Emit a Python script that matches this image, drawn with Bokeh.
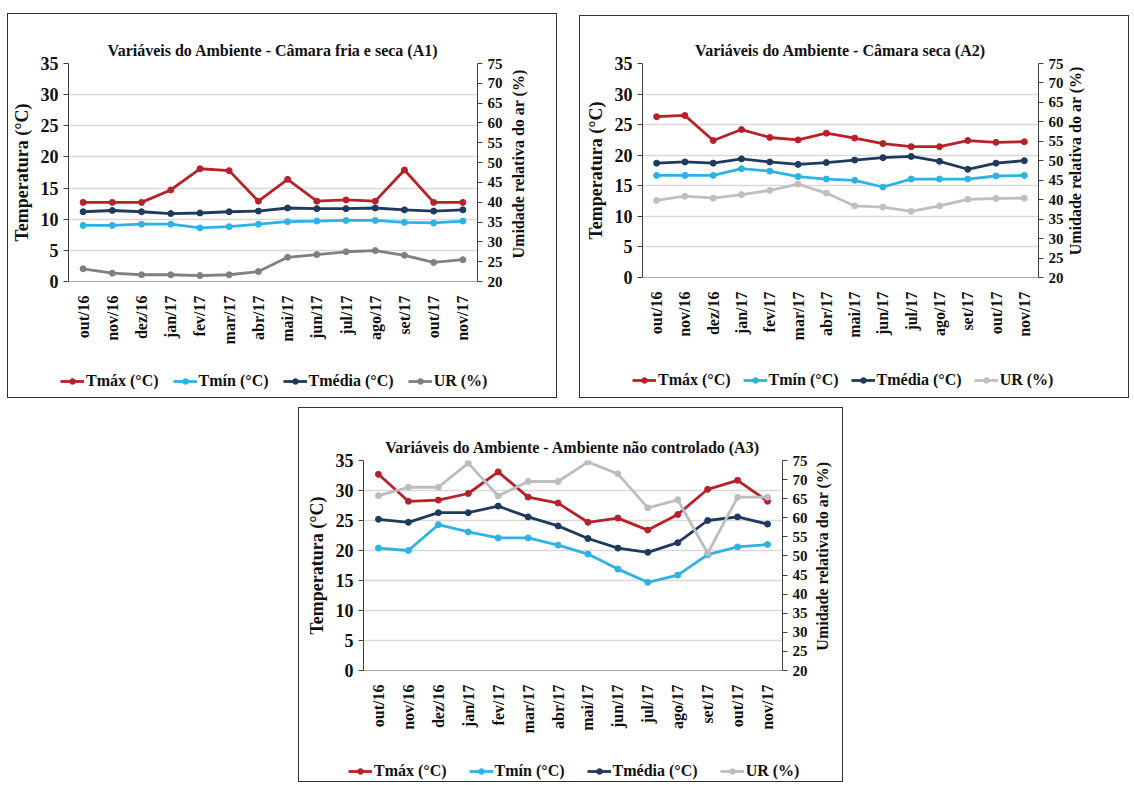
import math
from bokeh.plotting import figure
from bokeh.models import (Range1d, LinearAxis, Legend, LegendItem, FactorRange,
                          FixedTicker, Spacer, Label)
from bokeh.layouts import row, column
from bokeh.embed import file_html
from bokeh.resources import INLINE

months = ["out/16", "nov/16", "dez/16", "jan/17", "fev/17", "mar/17", "abr/17",
          "mai/17", "jun/17", "jul/17", "ago/17", "set/17", "out/17", "nov/17"]

# A1 - Câmara fria e seca
a1_tmax = [12.7, 12.7, 12.7, 14.7, 18.1, 17.8, 12.9, 16.4, 12.9, 13.1, 12.9, 17.9, 12.7, 12.7]
a1_tmin = [9.0, 9.0, 9.2, 9.2, 8.6, 8.8, 9.2, 9.6, 9.7, 9.8, 9.8, 9.5, 9.4, 9.7]
a1_tmed = [11.2, 11.4, 11.2, 10.9, 11.0, 11.2, 11.3, 11.8, 11.7, 11.7, 11.8, 11.5, 11.3, 11.5]
a1_ur = [23.2, 22.1, 21.7, 21.7, 21.5, 21.7, 22.5, 26.1, 26.8, 27.5, 27.8, 26.6, 24.8, 25.5]

# A2 - Câmara seca
a2_tmax = [26.3, 26.5, 22.4, 24.2, 22.9, 22.5, 23.6, 22.8, 21.9, 21.4, 21.4, 22.4, 22.1, 22.2]
a2_tmin = [16.7, 16.7, 16.7, 17.8, 17.4, 16.5, 16.1, 15.9, 14.8, 16.1, 16.1, 16.1, 16.6, 16.7]
a2_tmed = [18.7, 18.9, 18.7, 19.4, 18.9, 18.5, 18.8, 19.2, 19.6, 19.8, 19.0, 17.7, 18.7, 19.1]
a2_ur = [39.8, 40.9, 40.4, 41.3, 42.4, 44.0, 41.7, 38.4, 38.1, 37.0, 38.4, 40.1, 40.3, 40.4]

# A3 - Ambiente não controlado
a3_tmax = [32.7, 28.2, 28.4, 29.5, 33.1, 28.9, 27.9, 24.7, 25.4, 23.4, 26.0, 30.2, 31.7, 28.2]
a3_tmin = [20.4, 20.0, 24.3, 23.1, 22.1, 22.1, 20.9, 19.4, 16.9, 14.7, 15.9, 19.3, 20.6, 21.0]
a3_tmed = [25.2, 24.7, 26.3, 26.3, 27.4, 25.6, 24.1, 22.0, 20.4, 19.7, 21.3, 25.0, 25.6, 24.4]
a3_ur = [65.8, 68.0, 68.0, 74.3, 65.7, 69.5, 69.5, 74.6, 71.5, 62.6, 64.7, 50.7, 65.4, 65.4]

left_ticks = [0, 5, 10, 15, 20, 25, 30, 35]
right_ticks = [20, 25, 30, 35, 40, 45, 50, 55, 60, 65, 70, 75]

labels = ["Tmáx (°C)", "Tmín (°C)", "Tmédia (°C)", "UR (%)"]
right_label = "Umidade relativa do ar (%)"
C_MAX = "#B8202A"
C_MIN = "#2DB3E3"
C_MED = "#1F3A5F"
FONT = "Liberation Serif"
TXT = "#111111"


def blank_fig(w, h, x_range, y_range):
    f = figure(width=w, height=h, x_range=x_range, y_range=y_range,
               x_axis_type=None, y_axis_type=None, output_backend="svg",
               toolbar_location=None, min_border=0)
    f.outline_line_color = None
    f.background_fill_color = None
    f.border_fill_color = None
    return f


def make_panel(title, tmax, tmin, tmed, ur, ur_color, box_w, box_h, fw, fh,
               bl, bt, title_offset, lab_x, leg_h, leg_xy, leg_spacing):
    mr = 28
    main_h = box_h - leg_h
    main_w = bl + fw + mr
    p = figure(x_range=FactorRange(*months), y_range=Range1d(0, 35),
               frame_width=fw, frame_height=fh, output_backend="svg",
               toolbar_location=None, min_border_left=bl, min_border_right=mr,
               min_border_top=bt, min_border_bottom=main_h - bt - fh)
    p.extra_y_ranges = {"ur": Range1d(20, 75)}
    p.outline_line_color = None
    p.background_fill_color = "white"
    p.border_fill_color = None

    p.title.text = title
    p.title.align = "center"
    p.title.text_font = FONT
    p.title.text_font_style = "bold"
    p.title.text_font_size = "16px"
    p.title.text_color = TXT
    p.title.offset = title_offset
    if "padding" in p.title.properties():
        p.title.padding = (0, 0, 9, 0)

    p.xgrid.grid_line_color = None
    p.ygrid.grid_line_color = "#D9D9D9"
    p.ygrid.grid_line_width = 1.5
    p.ygrid.ticker = FixedTicker(ticks=left_ticks)

    ya = p.yaxis[0]
    ya.ticker = FixedTicker(ticks=left_ticks)
    ya.axis_label = "Temperatura (°C)"
    ya.axis_label_text_font = FONT
    ya.axis_label_text_font_style = "bold"
    ya.axis_label_text_font_size = "18px"
    ya.axis_label_text_color = TXT
    ya.axis_label_standoff = 6
    ya.major_label_text_font = FONT
    ya.major_label_text_font_style = "bold"
    ya.major_label_text_font_size = "18px"
    ya.major_label_text_color = TXT
    ya.axis_line_color = "#404040"
    ya.major_tick_line_color = "#404040"
    ya.major_tick_out = 5
    ya.major_tick_in = 0
    ya.minor_tick_line_color = None

    ra = LinearAxis(y_range_name="ur", ticker=FixedTicker(ticks=right_ticks))
    ra.major_label_text_font = FONT
    ra.major_label_text_font_style = "bold"
    ra.major_label_text_font_size = "15px"
    ra.major_label_text_color = TXT
    ra.axis_line_color = "#404040"
    ra.major_tick_line_color = "#404040"
    ra.major_tick_out = 5
    ra.major_tick_in = 0
    ra.minor_tick_line_color = None
    p.add_layout(ra, "right")

    xa = p.xaxis[0]
    xa.major_label_orientation = math.pi / 2
    xa.major_label_text_font = FONT
    xa.major_label_text_font_style = "bold"
    xa.major_label_text_font_size = "16px"
    xa.major_label_text_color = TXT
    xa.axis_line_color = "#A6A6A6"
    xa.major_tick_line_color = None
    xa.major_label_standoff = 8

    series = [(tmax, C_MAX, "default"), (tmin, C_MIN, "default"),
              (tmed, C_MED, "default"), (ur, ur_color, "ur")]
    for vals, col, rng in series:
        p.line(months, vals, line_color=col, line_width=2.8, y_range_name=rng)
        p.scatter(months, vals, marker="circle", size=6, fill_color=col,
                  line_color=col, y_range_name=rng)

    # right-hand axis title (reads bottom to top)
    lab_w = box_w - main_w
    lf = blank_fig(lab_w, main_h, Range1d(0, lab_w), Range1d(0, main_h))
    lf.add_layout(Label(x=lab_x, y=main_h - (bt + fh / 2), text=right_label,
                        angle=math.pi / 2, text_align="center",
                        text_baseline="middle", text_font=FONT,
                        text_font_style="bold", text_font_size="16px",
                        text_color=TXT))

    # legend strip: same series drawn off-view, used only for the legend keys
    gf = blank_fig(box_w, leg_h, FactorRange(*months), Range1d(100, 200))
    items = []
    for (vals, col, rng), lab in zip(series, labels):
        l = gf.line(months, vals, line_color=col, line_width=2.8)
        s = gf.scatter(months, vals, marker="circle", size=6, fill_color=col,
                       line_color=col)
        items.append(LegendItem(label=lab, renderers=[l, s]))
    leg = Legend(items=items, orientation="horizontal", location=leg_xy,
                 label_text_font=FONT, label_text_font_style="bold",
                 label_text_font_size="16px", label_text_color=TXT,
                 glyph_width=24, glyph_height=14, label_standoff=2,
                 spacing=leg_spacing, border_line_color=None,
                 background_fill_alpha=0, padding=2, margin=0)
    gf.add_layout(leg)

    return column(row(p, lf, spacing=0), gf, spacing=0,
                  styles={"outline": "1px solid #333333", "outline-offset": "-1px"})


panel1 = make_panel("Variáveis do Ambiente - Câmara fria e seca (A1)",
                    a1_tmax, a1_tmin, a1_tmed, a1_ur, "#808080",
                    550, 385, 409, 218, 61, 50, -13, 13, 40, (53, 8), 14)
panel2 = make_panel("Variáveis do Ambiente - Câmara seca (A2)",
                    a2_tmax, a2_tmin, a2_tmed, a2_ur, "#BFBFBF",
                    550, 383, 396, 214, 63, 48, 0, 9, 42, (53, 9), 12)
panel3 = make_panel("Variáveis do Ambiente - Ambiente não controlado (A3)",
                    a3_tmax, a3_tmin, a3_tmed, a3_ur, "#BDBDBD",
                    545, 375, 419, 210, 65, 53, -10, 12, 28, (50, 2), 22)

layout = column(
    Spacer(height=13),
    row(Spacer(width=7), panel1, Spacer(width=22), column(Spacer(height=2), panel2)),
    Spacer(height=9),
    row(Spacer(width=298), panel3),
)

open("out.html", "w").write(file_html(layout, INLINE))
